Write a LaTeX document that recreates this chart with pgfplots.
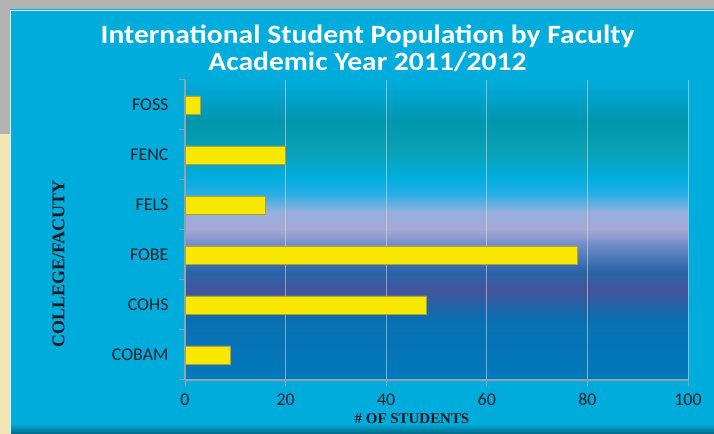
\documentclass[border=0pt]{standalone}
\usepackage{pgfplots}
\pgfplotsset{compat=1.18}
\usepackage{fontspec}
\setmainfont{Carlito}
\newfontfamily\serifb{Liberation Serif}
\definecolor{panel}{RGB}{0,172,220}
\definecolor{framegray}{RGB}{178,178,178}
\definecolor{beige}{RGB}{242,228,180}
\definecolor{axisgray}{RGB}{150,160,175}
\definecolor{tickdark}{RGB}{30,35,45}
\definecolor{labeldark}{RGB}{25,25,30}
\definecolor{baryellow}{RGB}{248,232,0}
\definecolor{barborder}{RGB}{175,160,60}
\definecolor{gA}{RGB}{0,122,188}
\definecolor{gB}{RGB}{8,112,178}
\definecolor{gC}{RGB}{68,84,156}
\definecolor{gD}{RGB}{40,100,168}
\definecolor{gE}{RGB}{110,140,200}
\definecolor{gF}{RGB}{168,166,212}
\definecolor{gG}{RGB}{150,176,222}
\definecolor{gH}{RGB}{40,175,226}
\definecolor{gI}{RGB}{0,174,224}
\definecolor{gJ}{RGB}{10,160,182}
\definecolor{gK}{RGB}{0,150,172}
\definecolor{gL}{RGB}{0,162,202}
\definecolor{gM}{RGB}{0,172,218}
\pgfdeclareverticalshading{plotbg}{100bp}{color(0bp)=(gA); color(25bp)=(gA); color(35bp)=(gB); color(40bp)=(gC); color(43bp)=(gD); color(47.5bp)=(gE); color(50bp)=(gF); color(53bp)=(gG); color(56bp)=(gH); color(58.5bp)=(gI); color(63bp)=(gJ); color(68bp)=(gK); color(72bp)=(gL); color(75bp)=(gM); color(100bp)=(gM)}
\pgfdeclareverticalshading{panelsh}{100bp}{color(0bp)=(panel!60!black); color(25bp)=(panel!60!black); color(26.2bp)=(panel); color(100bp)=(panel)}
\begin{document}
\begin{tikzpicture}[x=1bp,y=1bp]
\fill[framegray] (0,0) rectangle (714,434);
\fill[beige] (0,0) rectangle (12,300);
\shade[shading=panelsh] (10,0) rectangle (714,424);
\draw[white!85!panel, line width=1bp] (10.5,0) -- (10.5,423.5) -- (714,423.5);
\begin{axis}[
  at={(185bp,54bp)}, anchor=south west,
  scale only axis, width=503bp, height=300bp,
  xmin=0, xmax=100, ymin=-0.5, ymax=5.5,
  xtick={0,20,...,100},
  ytick={0,...,5},
  yticklabels={COBAM,COHS,FOBE,FELS,FENC,FOSS},
  axis background/.style={shading=plotbg},
  axis x line*=bottom, axis y line*=left,
  axis line style={draw=axisgray, line width=1.2bp},
  xmajorgrids,
  grid style={draw=white!75!gray, opacity=0.55, line width=1bp},
  tick align=outside,
  major tick length=6bp,
  xtick style={draw=axisgray, line width=1bp},
  ytick style={draw=none},
  extra y ticks={-0.5,0.5,...,5.5},
  extra y tick labels={},
  extra y tick style={ytick style={draw=axisgray, line width=1bp}},
  /pgf/number format/assume math mode=true,
  ticklabel style={font=\fontsize{18}{20}\selectfont, text=tickdark},
  yticklabel style={xshift=-7bp},
  xticklabel style={yshift=-4bp},
  clip=false,
]
\addplot[xbar, bar width=18bp, fill=baryellow, draw=barborder, line width=0.8bp]
  coordinates {(9,0) (48,1) (78,2) (16,3) (20,4) (3,5)};
\end{axis}
\node[white, font=\bfseries\fontsize{26.5}{30}\selectfont, anchor=base, xscale=1.12] at (367.5,390.7) {International Student Population by Faculty};
\node[white, font=\bfseries\fontsize{26.5}{30}\selectfont, anchor=base, xscale=1.12] at (367.5,363) {Academic Year 2011/2012};
\node[text=labeldark, font=\serifb\bfseries\fontsize{15}{17}\selectfont] at (412,15.5) {\# OF STUDENTS};
\node[text=labeldark, font=\serifb\bfseries\fontsize{18}{20}\selectfont, rotate=90] at (58.5,170) {COLLEGE/FACUTY};
\pgfresetboundingbox
\path[use as bounding box] (0,0) rectangle (714,434);
\end{tikzpicture}
\end{document}
